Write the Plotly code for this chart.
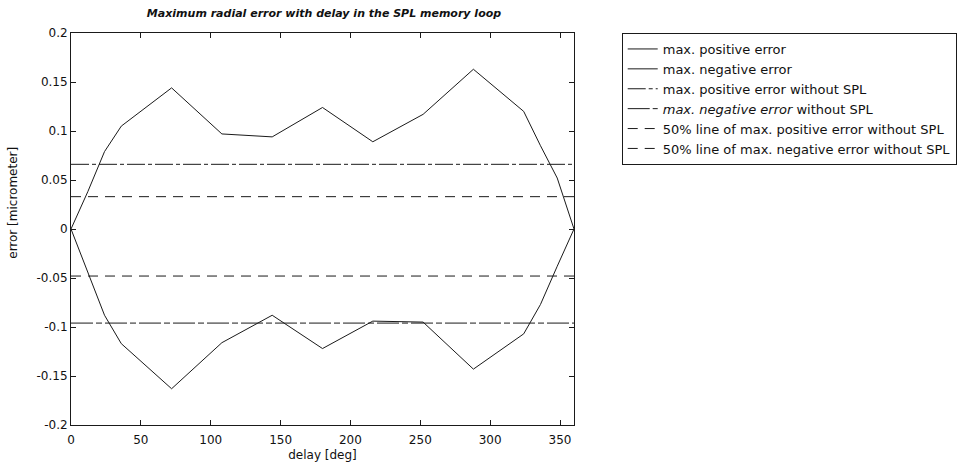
import plotly.graph_objects as go

# ---- data ----
delay = [0, 12, 24, 36, 72, 108, 144, 180, 216, 252, 288, 324, 336, 348, 360]
max_pos_err = [0, 0.038, 0.079, 0.105, 0.144, 0.097, 0.094, 0.124, 0.089, 0.117, 0.163, 0.120, 0.085, 0.052, 0]
max_neg_err = [0, -0.044, -0.088, -0.117, -0.163, -0.116, -0.088, -0.122, -0.094, -0.095, -0.143, -0.107, -0.077, -0.038, 0]
line_x = [0, 360]
max_pos_wo_spl = 0.066
max_neg_wo_spl = -0.096
half_pos_wo_spl = 0.033
half_neg_wo_spl = -0.048

x_ticks = [0, 50, 100, 150, 200, 250, 300, 350]
y_ticks = [0.2, 0.15, 0.1, 0.05, 0, -0.05, -0.1, -0.15, -0.2]
y_tick_text = ["0.2", "0.15", "0.1", "0.05", "0", "-0.05", "-0.1", "-0.15", "-0.2"]

names = [
    "max. positive error",
    "max. negative error",
    "max. positive error without SPL",
    "<i>max. negative error</i> without SPL",
    "50% line of max. positive error without SPL",
    "50% line of max. negative error without SPL",
]

FONT = "DejaVu Sans"
ink = "#1a1a1a"
fig = go.Figure()
fig.add_trace(go.Scatter(x=delay, y=max_pos_err, mode="lines", name=names[0],
                         line=dict(color=ink, width=1)))
fig.add_trace(go.Scatter(x=delay, y=max_neg_err, mode="lines", name=names[1],
                         line=dict(color=ink, width=1)))
fig.add_trace(go.Scatter(x=line_x, y=[max_pos_wo_spl] * 2, mode="lines", name=names[2],
                         line=dict(color=ink, width=1, dash="18px,3px,4px,3px")))
fig.add_trace(go.Scatter(x=line_x, y=[max_neg_wo_spl] * 2, mode="lines", name=names[3],
                         line=dict(color=ink, width=1, dash="22px,3px,6px,3px")))
fig.add_trace(go.Scatter(x=line_x, y=[half_pos_wo_spl] * 2, mode="lines", name=names[4],
                         line=dict(color=ink, width=1, dash="10px,7px")))
fig.add_trace(go.Scatter(x=line_x, y=[half_neg_wo_spl] * 2, mode="lines", name=names[5],
                         line=dict(color=ink, width=1, dash="10px,7px")))

axis_common = dict(showline=True, linecolor=ink, linewidth=1, mirror="ticks",
                   ticks="inside", ticklen=5, tickcolor=ink, showgrid=False,
                   zeroline=False, tickfont=dict(family=FONT, size=12, color="#111"))

fig.update_layout(
    width=969, height=472,
    margin=dict(l=71, r=392, t=33, b=41),
    paper_bgcolor="white", plot_bgcolor="white",
    font=dict(family=FONT, size=12, color="#111"),
    title=dict(text="<b><i>Maximum radial error with delay in the SPL memory loop</i></b>",
               x=(71 + 577) / 2 / 969, xanchor="center", y=1 - 13 / 472, yanchor="middle",
               font=dict(family=FONT, size=11, color="#111")),
    xaxis=dict(range=[0, 360], tickvals=x_ticks, ticklabelstandoff=4,
               title=dict(text="delay [deg]", font=dict(family=FONT, size=12), standoff=4),
               **axis_common),
    yaxis=dict(range=[-0.2, 0.2], tickvals=y_ticks, ticktext=y_tick_text,
               **axis_common),
    legend=dict(x=(625 - 71) / 506, xanchor="left", y=1, yanchor="top",
                bordercolor=ink, borderwidth=1, bgcolor="white",
                font=dict(family=FONT, size=13, color="#111"), tracegroupgap=0),
    showlegend=True,
    annotations=[dict(text="error [micrometer]", textangle=-90, xref="paper", yref="paper",
                      x=-(71 - 13) / 506, xanchor="center", y=(431 - 205) / 398, yanchor="middle",
                      showarrow=False, font=dict(family=FONT, size=12, color="#111"))],
)

fig.write_html("out.html")
